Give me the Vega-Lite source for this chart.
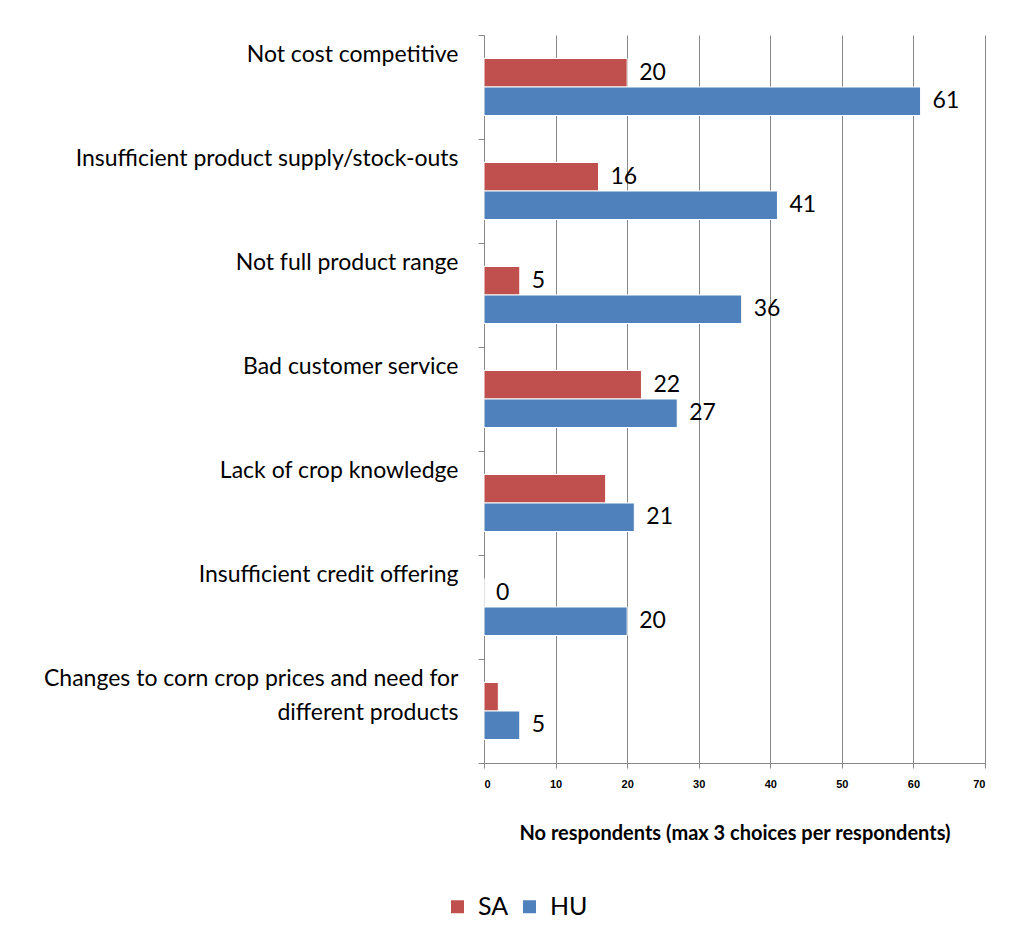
{
  "$schema": "https://vega.github.io/schema/vega-lite/v6.json",
  "autosize": "none",
  "width": 501,
  "height": 728,
  "padding": {"left": 484, "top": 35, "right": 28, "bottom": 177},
  "background": "white",
  "config": {"view": {"stroke": null}, "font": "Lato"},
  "data": {
    "values": [
      {"reason": "Not cost competitive", "country": "SA", "value": 20, "label": "20"},
      {"reason": "Not cost competitive", "country": "HU", "value": 61, "label": "61"},
      {"reason": "Insufficient product supply/stock-outs", "country": "SA", "value": 16, "label": "16"},
      {"reason": "Insufficient product supply/stock-outs", "country": "HU", "value": 41, "label": "41"},
      {"reason": "Not full product range", "country": "SA", "value": 5, "label": "5"},
      {"reason": "Not full product range", "country": "HU", "value": 36, "label": "36"},
      {"reason": "Bad customer service", "country": "SA", "value": 22, "label": "22"},
      {"reason": "Bad customer service", "country": "HU", "value": 27, "label": "27"},
      {"reason": "Lack of crop knowledge", "country": "SA", "value": 17, "label": ""},
      {"reason": "Lack of crop knowledge", "country": "HU", "value": 21, "label": "21"},
      {"reason": "Insufficient credit offering", "country": "SA", "value": 0, "label": "0"},
      {"reason": "Insufficient credit offering", "country": "HU", "value": 20, "label": "20"},
      {"reason": "Changes to corn crop prices and need for different products", "country": "SA", "value": 2, "label": ""},
      {"reason": "Changes to corn crop prices and need for different products", "country": "HU", "value": 5, "label": "5"}
    ]
  },
  "encoding": {
    "y": {
      "field": "reason",
      "type": "nominal",
      "sort": null,
      "scale": {"paddingInner": 0, "paddingOuter": 0},
      "axis": {
        "title": null,
        "tickBand": "extent",
        "tickSize": 6,
        "tickColor": "#888888",
        "domainColor": "#888888",
        "labelPadding": 20,
        "labelFont": "Lato",
        "labelFontSize": 23,
        "labelColor": "#000000",
        "labelBaseline": "top",
        "labelOffset": -44,
        "labelLineHeight": 34,
        "labelLimit": 500,
        "labelExpr": "datum.label == 'Changes to corn crop prices and need for different products' ? ['Changes to corn crop prices and need for', 'different products'] : datum.label"
      }
    },
    "yOffset": {
      "field": "country",
      "type": "nominal",
      "sort": ["SA", "HU"],
      "scale": {"paddingInner": 0, "paddingOuter": 0.8246}
    },
    "x": {
      "field": "value",
      "type": "quantitative",
      "scale": {"domain": [0, 70], "nice": false},
      "axis": {
        "values": [0, 10, 20, 30, 40, 50, 60, 70],
        "grid": true,
        "gridColor": "#888888",
        "gridOpacity": 1,
        "domainColor": "#888888",
        "tickColor": "#888888",
        "tickSize": 5,
        "labelFont": "Liberation Sans",
        "labelFontSize": 11,
        "labelFontWeight": "bold",
        "labelColor": "#000000",
        "labelPadding": 10,
        "title": "No respondents (max 3 choices per respondents)",
        "titleFont": "Lato",
        "titleFontSize": 20,
        "titleFontWeight": "bold",
        "titleColor": "#000000",
        "titlePadding": 34
      }
    }
  },
  "layer": [
    {
      "mark": {"type": "bar", "stroke": "white", "strokeWidth": 1},
      "encoding": {
        "color": {
          "field": "country",
          "type": "nominal",
          "sort": ["SA", "HU"],
          "scale": {"domain": ["SA", "HU"], "range": ["#C0504D", "#4F81BD"]},
          "legend": {
            "title": null,
            "orient": "none",
            "direction": "horizontal",
            "legendX": -39,
            "legendY": 859,
            "symbolType": "square",
            "symbolSize": 169,
            "symbolStrokeWidth": 0,
            "labelFont": "Lato",
            "labelFontSize": 25,
            "labelColor": "#000000",
            "labelOffset": 8,
            "columnPadding": 8
          }
        }
      }
    },
    {
      "mark": {"type": "text", "align": "left", "baseline": "middle", "dx": 12, "fontSize": 23, "font": "Lato", "color": "#000000"},
      "encoding": {"text": {"field": "label"}}
    }
  ]
}
